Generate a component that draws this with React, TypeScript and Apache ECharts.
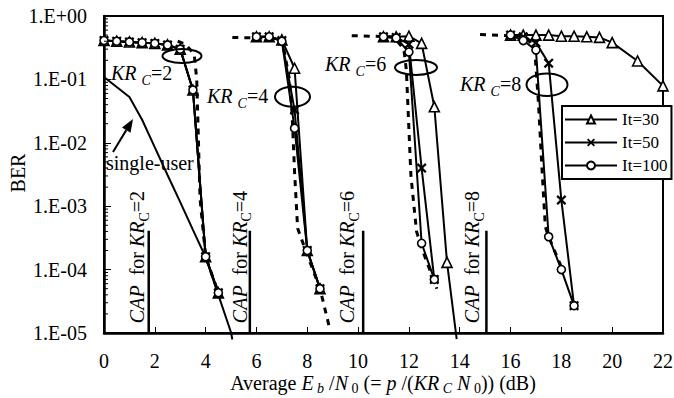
import React, { useEffect, useRef } from 'react';
import * as echarts from 'echarts';

const FONT = '"Liberation Serif", "Times New Roman", serif';

const X_MIN = 0;
const X_MAX = 22;
const X_STEP = 2;
const Y_MIN = 1e-5;
const Y_MAX = 1;

const LEGEND_NAMES = ['It=30', 'It=50', 'It=100'];

// KR_C = 2 (all iteration counts overlap)
const X_KR2 = [0, 0.5, 1, 1.5, 2, 2.5, 3, 3.5, 4, 4.5];
const BER_KR2_IT30 = [0.41, 0.4, 0.39, 0.38, 0.37, 0.35, 0.3, 0.068, 1.6e-4, 4.3e-5];
const BER_KR2_IT50 = [0.41, 0.4, 0.39, 0.38, 0.37, 0.35, 0.3, 0.068, 1.6e-4, 4.3e-5];
const BER_KR2_IT100 = [0.41, 0.4, 0.39, 0.38, 0.37, 0.35, 0.3, 0.068, 1.6e-4, 4.3e-5];

// KR_C = 4
const X_KR4 = [6, 6.5, 7, 7.5, 8, 8.5];
const BER_KR4_IT30 = [0.47, 0.47, 0.42, 0.15, 2.0e-4, 5.0e-5];
const BER_KR4_IT50 = [0.47, 0.47, 0.41, 0.033, 2.0e-4, 5.0e-5];
const BER_KR4_IT100 = [0.47, 0.47, 0.4, 0.017, 2.0e-4, 5.0e-5];

// KR_C = 6
const X_KR6_IT30 = [11, 11.5, 12, 12.5, 13, 13.5, 13.88];
const BER_KR6_IT30 = [0.47, 0.47, 0.48, 0.37, 0.037, 1.3e-4, 8e-6];
const X_KR6 = [11, 11.5, 12, 12.5, 13];
const BER_KR6_IT50 = [0.47, 0.46, 0.36, 4.0e-3, 7.0e-5];
const BER_KR6_IT100 = [0.47, 0.45, 0.27, 2.6e-4, 7.0e-5];

// KR_C = 8
const X_KR8_IT30 = [16, 16.5, 17, 17.5, 18, 18.5, 19, 19.5, 20, 21, 22];
const BER_KR8_IT30 = [0.5, 0.5, 0.5, 0.5, 0.48, 0.48, 0.47, 0.46, 0.38, 0.195, 0.079];
const X_KR8 = [16, 16.5, 17, 17.5, 18, 18.5];
const BER_KR8_IT50 = [0.5, 0.47, 0.38, 0.18, 1.25e-3, 2.7e-5];
const BER_KR8_IT100 = [0.5, 0.41, 0.29, 3.3e-4, 1.0e-4, 2.7e-5];

// dashed reference curves
const X_REF2 = [2.9, 3.2, 3.55, 3.65, 3.78, 4.0, 4.5];
const BER_REF2 = [0.4, 0.36, 0.25, 0.1, 1.3e-3, 1.6e-4, 4.3e-5];
const X_REF4 = [5.05, 7, 7.3, 7.4, 7.5, 7.62, 7.9, 8.5, 8.9];
const BER_REF4 = [0.46, 0.44, 0.1, 0.03, 3.5e-3, 4.5e-4, 2.2e-4, 5e-5, 1.1e-5];
const X_REF6 = [9.75, 11.4, 11.8, 11.9, 12.08, 12.3, 12.5, 13.1];
const BER_REF6 = [0.49, 0.47, 0.3, 0.14, 3e-3, 4e-4, 2.2e-4, 5e-5];
const X_REF8 = [14.8, 16.6, 16.95, 17.1, 17.24, 17.37, 17.5, 18];
const BER_REF8 = [0.51, 0.48, 0.3, 0.042, 3.7e-3, 4.7e-4, 3.3e-4, 1.1e-4];

// single-user bound
const X_SINGLE = [0, 0.5, 1, 1.5, 2, 2.5, 3, 3.5, 4, 4.5, 5, 5.05];
const BER_SINGLE = [0.109, 0.0757, 0.0526, 0.0231, 8.45e-3, 3.11e-3, 1.16e-3, 4.24e-4, 1.57e-4, 4.0e-5, 1.02e-5, 7.9e-6];

// capacity lines
const CAP_X = [1.76, 5.74, 10.2, 15.05];
const CAP_KR = ['2', '4', '6', '8'];
const CAP_BER_TOP = 4.1e-4;

const KR_LABELS = ['2', '4', '6', '8'];

// layout of annotations (pixels)
const KR_LABEL_POS = [[111, 73], [207, 96], [325, 64], [460, 84]];
const ELLIPSE_POS = [[182, 56, 19.5, 7], [292.5, 96.7, 17.5, 10], [416, 67.5, 21, 7.5], [547, 84.7, 20.5, 11.3]];
const CAP_TEXT_POS = [[137, 257], [239.5, 257], [347, 257], [472, 257]];
const X_TITLE_POS = [383, 383];
const Y_TITLE_POS = [18, 173];

const CROSS = 'path://M0,1.6L1.6,0L5,3.4L8.4,0L10,1.6L6.6,5L10,8.4L8.4,10L5,6.6L1.6,10L0,8.4L3.4,5Z';

const SYMBOLS: Record<string, any> = {
  'It=30': { symbol: 'triangle', symbolSize: 10, itemStyle: { color: '#fff', borderColor: '#000', borderWidth: 1.6 } },
  'It=50': { symbol: CROSS, symbolSize: 10, itemStyle: { color: '#000', borderWidth: 0 } },
  'It=100': { symbol: 'circle', symbolSize: 8, itemStyle: { color: '#fff', borderColor: '#000', borderWidth: 1.6 } },
};

function pairs(xs: number[], ys: number[]) {
  return xs.map((x, i) => (ys[i] < Y_MIN ? { value: [x, ys[i]], symbol: 'none' } : [x, ys[i]]));
}

function itSeries(name: string, xs: number[], ys: number[]) {
  const s = SYMBOLS[name];
  return {
    type: 'line',
    name,
    data: pairs(xs, ys),
    symbol: s.symbol,
    symbolSize: s.symbolSize,
    showSymbol: true,
    itemStyle: s.itemStyle,
    lineStyle: { color: '#000', width: 2 },
    clip: false,
    z: 3,
  };
}

function dashSeries(xs: number[], ys: number[]) {
  return {
    type: 'line',
    name: 'ref',
    data: pairs(xs, ys),
    symbol: 'none',
    lineStyle: { color: '#000', width: 3, type: [6, 6] },
    z: 2,
  };
}

const RICH_BASE = {
  i: { fontFamily: FONT, fontStyle: 'italic', fontSize: 20, lineHeight: 28, verticalAlign: 'middle', color: '#000' },
  n: { fontFamily: FONT, fontSize: 20, lineHeight: 28, verticalAlign: 'middle', color: '#000' },
  s: { fontFamily: FONT, fontStyle: 'italic', fontSize: 14, lineHeight: 28, verticalAlign: 'bottom', color: '#000' },
  su: { fontFamily: FONT, fontSize: 14, lineHeight: 28, verticalAlign: 'bottom', color: '#000' },
};

const RICH_TITLE = {
  i: { fontFamily: FONT, fontStyle: 'italic', fontSize: 20, lineHeight: 24, verticalAlign: 'middle', color: '#000' },
  n: { fontFamily: FONT, fontSize: 20, lineHeight: 24, verticalAlign: 'middle', color: '#000' },
  s: { fontFamily: FONT, fontStyle: 'italic', fontSize: 14, lineHeight: 14, verticalAlign: 'bottom', color: '#000' },
  su: { fontFamily: FONT, fontSize: 14, lineHeight: 14, verticalAlign: 'bottom', color: '#000' },
};

function yLabel(v: number) {
  const e = Math.round(Math.log10(v));
  const sign = e >= 0 ? '+' : '-';
  const a = Math.abs(e);
  return '1.E' + sign + (a < 10 ? '0' + a : String(a));
}

export default function App() {
  const ref = useRef<HTMLDivElement>(null);
  useEffect(() => {
    if (!ref.current) return;
    const chart = echarts.init(ref.current, null, { renderer: 'svg' });

    const minor: number[][] = [];
    for (let e = -5; e < 0; e++) {
      for (let k = 2; k <= 9; k++) minor.push([0, k * Math.pow(10, e)]);
    }

    const series: any[] = [
      dashSeries(X_REF2, BER_REF2),
      dashSeries(X_REF4, BER_REF4),
      dashSeries(X_REF6, BER_REF6),
      dashSeries(X_REF8, BER_REF8),
      {
        type: 'line',
        name: 'single-user',
        data: X_SINGLE.map((x, i) => [x, BER_SINGLE[i]]),
        symbol: 'none',
        lineStyle: { color: '#000', width: 2 },
        clip: false,
        z: 3,
      },
      ...CAP_X.map((x) => ({
        type: 'line',
        name: 'cap',
        data: [[x, Y_MIN], [x, CAP_BER_TOP]],
        symbol: 'none',
        lineStyle: { color: '#000', width: 2.5 },
        z: 3,
      })),
      itSeries('It=30', X_KR2, BER_KR2_IT30),
      itSeries('It=50', X_KR2, BER_KR2_IT50),
      itSeries('It=100', X_KR2, BER_KR2_IT100),
      itSeries('It=30', X_KR4, BER_KR4_IT30),
      itSeries('It=50', X_KR4, BER_KR4_IT50),
      itSeries('It=100', X_KR4, BER_KR4_IT100),
      itSeries('It=30', X_KR6_IT30, BER_KR6_IT30),
      itSeries('It=50', X_KR6, BER_KR6_IT50),
      itSeries('It=100', X_KR6, BER_KR6_IT100),
      itSeries('It=30', X_KR8_IT30, BER_KR8_IT30),
      itSeries('It=50', X_KR8, BER_KR8_IT50),
      itSeries('It=100', X_KR8, BER_KR8_IT100),
      {
        type: 'custom',
        name: 'minor',
        data: minor,
        clip: false,
        silent: true,
        z: 5,
        renderItem: (_p: any, api: any) => {
          const pt = api.coord([api.value(0), api.value(1)]);
          return {
            type: 'line',
            shape: { x1: pt[0], y1: pt[1], x2: pt[0] + 4, y2: pt[1] },
            style: { stroke: '#000', lineWidth: 1 },
          };
        },
      },
    ];

    // arrow geometry
    const tail = [113, 152];
    const tip = [133, 119];
    const dx = tip[0] - tail[0];
    const dy = tip[1] - tail[1];
    const L = Math.sqrt(dx * dx + dy * dy);
    const ux = dx / L;
    const uy = dy / L;
    const hb = [tip[0] - 13 * ux, tip[1] - 13 * uy];
    const px = -uy;
    const py = ux;

    const graphic: any[] = [
      ...ELLIPSE_POS.map((e) => ({
        type: 'ellipse',
        shape: { cx: e[0], cy: e[1], rx: e[2], ry: e[3] },
        style: { fill: 'none', stroke: '#000', lineWidth: 2 },
        z: 10,
      })),
      ...KR_LABELS.map((k, i) => ({
        type: 'text',
        x: KR_LABEL_POS[i][0],
        y: KR_LABEL_POS[i][1],
        z: 10,
        style: {
          text: '{i|KR }{s|C}{n|=' + k + '}',
          rich: RICH_BASE,
          align: 'left',
          verticalAlign: 'middle',
          fill: '#000',
        },
      })),
      ...CAP_KR.map((k, i) => ({
        type: 'text',
        x: CAP_TEXT_POS[i][0],
        y: CAP_TEXT_POS[i][1],
        rotation: Math.PI / 2,
        z: 10,
        style: {
          text: '{i|CAP}{n|  for }{i|KR}{su|C}{n|=' + k + '}',
          rich: RICH_BASE,
          align: 'center',
          verticalAlign: 'middle',
          fill: '#000',
        },
      })),
      {
        type: 'line',
        shape: { x1: tail[0], y1: tail[1], x2: hb[0], y2: hb[1] },
        style: { stroke: '#000', lineWidth: 2 },
        z: 10,
      },
      {
        type: 'polygon',
        shape: {
          points: [
            [tip[0], tip[1]],
            [hb[0] + 5 * px, hb[1] + 5 * py],
            [hb[0] - 5 * px, hb[1] - 5 * py],
          ],
        },
        style: { fill: '#000' },
        z: 10,
      },
      {
        type: 'text',
        x: 106,
        y: 163,
        z: 10,
        style: { text: 'single-user', fontFamily: FONT, fontSize: 20, fill: '#000', align: 'left', verticalAlign: 'middle' },
      },
      {
        type: 'text',
        x: X_TITLE_POS[0],
        y: X_TITLE_POS[1],
        z: 10,
        style: {
          text: '{n|Average }{i|E}{s| b}{n| /}{i|N}{su| 0}{n| (= }{i|p}{n| /(}{i|KR}{s| C}{i| N}{su| 0}{n|)) (dB)}',
          rich: RICH_TITLE,
          align: 'center',
          verticalAlign: 'middle',
          fill: '#000',
        },
      },
      {
        type: 'text',
        x: Y_TITLE_POS[0],
        y: Y_TITLE_POS[1],
        rotation: Math.PI / 2,
        z: 10,
        style: {
          text: 'BER',
          fontFamily: FONT,
          fontSize: 20,
          lineHeight: 20,
          fill: '#000',
          align: 'center',
          verticalAlign: 'middle',
        },
      },
    ];

    chart.setOption({
      animation: false,
      backgroundColor: '#fff',
      grid: {
        left: 104, right: 11, top: 16, bottom: 65,
        outerBoundsMode: 'none',
        containLabel: false,
        show: true, borderColor: '#000', borderWidth: 2, backgroundColor: 'transparent',
      },
      legend: {
        data: LEGEND_NAMES,
        orient: 'vertical',
        left: 562,
        top: 106,
        itemWidth: 52,
        itemHeight: 10,
        itemGap: 6,
        padding: [5, 4, 5, 2],
        backgroundColor: '#fff',
        borderColor: '#000',
        borderWidth: 2,
        borderRadius: 0,
        textStyle: { fontFamily: FONT, fontSize: 17, color: '#000' },
        z: 20,
      },
      xAxis: {
        type: 'value',
        min: X_MIN,
        max: X_MAX,
        interval: X_STEP,
        axisLine: { show: true, lineStyle: { color: '#000', width: 2.5 } },
        axisTick: { show: true, inside: true, length: 6, lineStyle: { color: '#000', width: 1 } },
        axisLabel: { fontFamily: FONT, fontSize: 20, color: '#000', margin: 18 },
        splitLine: { show: false },
      },
      yAxis: {
        type: 'log',
        logBase: 10,
        min: Y_MIN,
        max: Y_MAX,
        axisLine: { show: true, lineStyle: { color: '#000', width: 2.5 } },
        axisTick: { show: true, inside: true, length: 7, lineStyle: { color: '#000', width: 1 } },
        axisLabel: { fontFamily: FONT, fontSize: 20, color: '#000', margin: 17, formatter: (v: number) => yLabel(v) },
        splitLine: { show: false },
      },
      series,
      graphic,
    });

    return () => chart.dispose();
  }, []);

  return <div ref={ref} style={{ position: 'fixed', left: 0, top: 0, width: 674, height: 398, background: '#fff' }} />;
}
